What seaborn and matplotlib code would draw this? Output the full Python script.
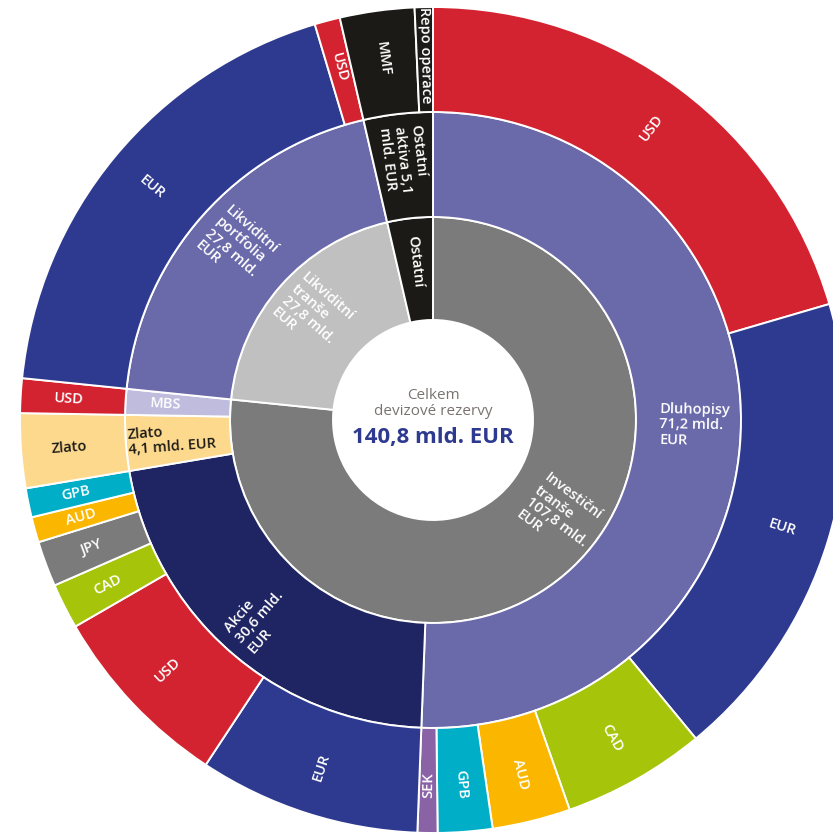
"""
plot.py - sunburst of the FX reserves structure (pie rings drawn on a seaborn-styled axes)
"""

import numpy as np
import matplotlib

matplotlib.use("Agg")

import matplotlib.pyplot as plt
import seaborn as sns


# inner ring: tranches
inner_labels = ["Investiční\ntranše\n107,8 mld.\nEUR", "Likviditní\ntranše\n27,8 mld.\nEUR", "Ostatní"]
inner_values = [107.8, 27.8, 5.1]

# middle ring: asset classes
middle_labels = [
    "Dluhopisy\n71,2 mld.\nEUR",
    "Akcie\n30,6 mld.\nEUR",
    "Zlato\n4,1 mld. EUR",
    "MBS",
    "Likviditní\nportfolia\n27,8 mld.\nEUR",
    "Ostatní\naktiva 5,1\nmld. EUR",
]
middle_keys = ["Dluhopisy", "Akcie", "Zlato", "MBS", "Likviditni", "OstatniAktiva"]
middle_values = [71.2, 30.6, 4.1, 1.9, 27.8, 5.1]

# outer ring: currencies inside each asset class (clockwise from 12 o'clock)
outer_labels = [
    "USD", "EUR", "CAD", "AUD", "GPB", "SEK",
    "EUR", "USD", "CAD", "JPY", "AUD", "GPB",
    "Zlato",
    "USD",
    "EUR", "USD",
    "MMF", "Repo operace",
]
outer_values = [
    28.8, 26.1, 7.9, 4.3, 3.0, 1.1,
    12.2, 10.4, 2.5, 2.5, 1.4, 1.6,
    4.1,
    1.9,
    26.4, 1.4,
    4.1, 1.0,
]

total_label = "140,8 mld. EUR"
center_label = "Celkem\ndevizové rezervy"

# colours
inner_colors = ["#7b7b7b", "#bfc0bf", "#1b1a16"]
middle_palette = {
    "Dluhopisy": "#6a69aa",
    "Akcie": "#1f2562",
    "Zlato": "#fdd98e",
    "MBS": "#c0bcdd",
    "Likviditni": "#6a69aa",
    "OstatniAktiva": "#1b1a16",
}
outer_palette = {
    "USD": "#d42330",
    "EUR": "#2e3a8f",
    "CAD": "#a6c50a",
    "AUD": "#fbb700",
    "GPB": "#00aec7",
    "SEK": "#8a63a6",
    "JPY": "#7b7b7b",
    "Zlato": "#fdd98e",
    "MMF": "#1b1a16",
    "Repo operace": "#1b1a16",
}
dark_text = {"Zlato"}

R0, R1, R2, R3 = 100, 203, 308, 413


def mid_angles(values):
    # clockwise angle from 12 o'clock (degrees) of each wedge centre
    v = np.asarray(values, dtype=float)
    edges = np.concatenate([[0], np.cumsum(v)]) / v.sum() * 360
    return (edges[:-1] + edges[1:]) / 2


def radial_rotation(angle):
    d = 90 - angle
    d = (d + 180) % 360 - 180
    if d > 90:
        d -= 180
    elif d < -90:
        d += 180
    return d


def put_label(ax, text, angle, r, color="white", size=10.5):
    t = np.radians(90 - angle)
    ax.text(r * np.cos(t), r * np.sin(t), text, ha="center", va="center",
            multialignment="left", rotation=radial_rotation(angle),
            rotation_mode="anchor", color=color, fontsize=size,
            fontweight="semibold", linespacing=1.12)


sns.set_theme(style="white")
plt.rcParams["font.family"] = ["Open Sans", "DejaVu Sans"]

fig = plt.figure(figsize=(8.33, 8.40), dpi=100)
ax = fig.add_axes([0, 0, 1, 1])

wedge = dict(edgecolor="white", linewidth=1.4)
ax.pie(inner_values, radius=R1, colors=inner_colors, startangle=90, counterclock=False,
       wedgeprops=dict(width=R1 - R0, **wedge))
ax.pie(middle_values, radius=R2, colors=[middle_palette[k] for k in middle_keys],
       startangle=90, counterclock=False, wedgeprops=dict(width=R2 - R1, **wedge))
ax.pie(outer_values, radius=R3, colors=[outer_palette[k] for k in outer_labels],
       startangle=90, counterclock=False, wedgeprops=dict(width=R3 - R2, **wedge))

# inner labels
inner_angles = mid_angles(inner_values)
inner_angles[0] = 127
for lab, ang in zip(inner_labels, inner_angles):
    put_label(ax, lab, ang, 160, size=10.5)

# middle labels
for lab, key, ang in zip(middle_labels, middle_keys, mid_angles(middle_values)):
    col = "#1b1a16" if key == "Zlato" else "white"
    r = 262 if key != "MBS" else 268
    put_label(ax, lab, ang, r, color=col, size=10.5)

# outer labels
for lab, ang in zip(outer_labels, mid_angles(outer_values)):
    col = "#1b1a16" if lab in dark_text else "white"
    put_label(ax, lab, ang, 365, color=col, size=10.5)

# centre
ax.text(0, 1, center_label, ha="center", va="bottom", color="#7b7370",
        fontsize=11, linespacing=1.05)
ax.text(0, -18, total_label, ha="center", va="center", color="#2e3a8f",
        fontsize=16, fontweight="bold")

ax.set_xlim(-433, 400)
ax.set_ylim(-420, 420)
ax.set_aspect("equal")
ax.axis("off")

fig.savefig("out.png", dpi=100)
plt.close(fig)
